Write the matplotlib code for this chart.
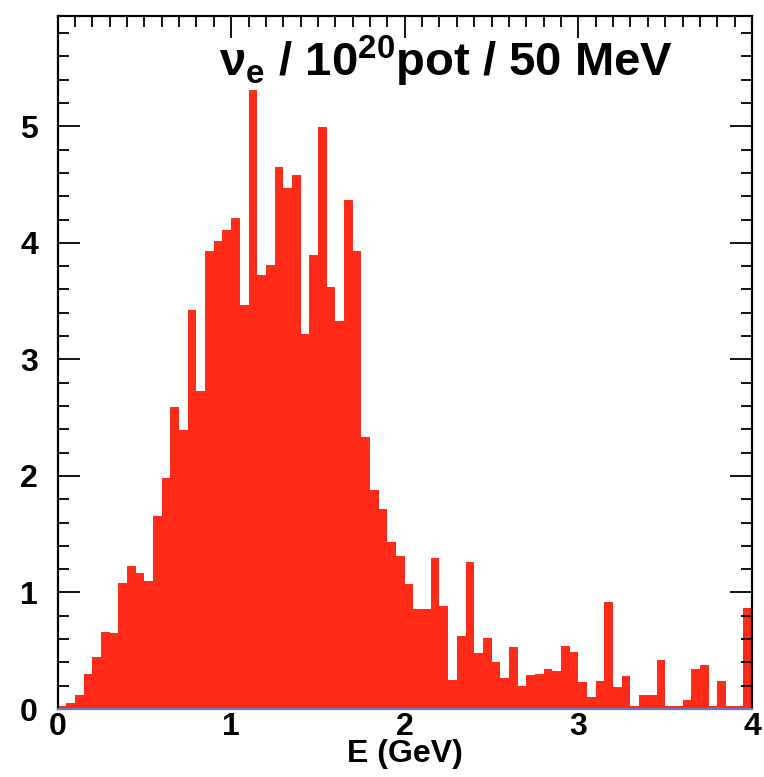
import numpy as np
import matplotlib

matplotlib.use("Agg")
import matplotlib.pyplot as plt
from matplotlib.ticker import MultipleLocator

# nu_e spectrum, 80 bins of 50 MeV from 0 to 4 GeV
E_LO, E_HI, BIN_W = 0.0, 4.0, 0.05
counts = [
    0.03, 0.05, 0.12, 0.30, 0.45, 0.66, 0.65, 1.08, 1.23, 1.17,   # 0.0 - 0.5
    1.10, 1.66, 1.98, 2.59, 2.39, 3.42, 2.73, 3.93, 4.02, 4.11,   # 0.5 - 1.0
    4.21, 3.47, 5.31, 3.72, 3.81, 4.65, 4.47, 4.58, 3.22, 3.90,   # 1.0 - 1.5
    4.99, 3.62, 3.33, 4.37, 3.93, 2.33, 1.88, 1.72, 1.43, 1.31,   # 1.5 - 2.0
    1.07, 0.86, 0.86, 1.30, 0.88, 0.25, 0.63, 1.26, 0.48, 0.61,   # 2.0 - 2.5
    0.40, 0.27, 0.53, 0.20, 0.29, 0.30, 0.34, 0.33, 0.54, 0.49,   # 2.5 - 3.0
    0.23, 0.10, 0.24, 0.92, 0.19, 0.28, 0.03, 0.12, 0.12, 0.42,   # 3.0 - 3.5
    0.03, 0.03, 0.08, 0.34, 0.38, 0.03, 0.24, 0.03, 0.03, 0.87,   # 3.5 - 4.0
]
x_ticks = [0, 1, 2, 3, 4]
y_ticks = [0, 1, 2, 3, 4, 5]

RED = "#ff2b18"
BOLD = dict(fontweight="bold", family=["Liberation Sans", "DejaVu Sans"])

fig = plt.figure(figsize=(7.64, 7.77), dpi=100)
ax = fig.add_axes([0.0753, 0.0875, 0.909, 0.8924])

edges = np.arange(len(counts) + 1) * BIN_W + E_LO
ax.stairs(counts, edges, fill=True, color=RED, lw=0)
ax.plot([E_LO, E_HI], [0, 0], color="#7474bd", lw=1.6, clip_on=False, zorder=3)

ax.set_xlim(E_LO, E_HI)
ax.set_ylim(0, 5.95)

ax.xaxis.set_major_locator(MultipleLocator(1))
ax.xaxis.set_minor_locator(MultipleLocator(0.1))
ax.yaxis.set_major_locator(MultipleLocator(1))
ax.yaxis.set_minor_locator(MultipleLocator(0.2))
ax.tick_params(which="both", direction="in", top=True, right=True, width=1.3, color="black")
ax.tick_params(which="major", length=16)
ax.tick_params(which="minor", length=8)
ax.tick_params(axis="y", which="major", pad=14)
ax.tick_params(axis="x", which="both", bottom=False)
ax.tick_params(axis="x", which="major", pad=2)
ax.set_xticks(x_ticks)
ax.set_yticks(y_ticks)
ax.set_xticklabels([str(v) for v in x_ticks], fontsize=23, **BOLD)
ax.set_yticklabels([str(v) for v in y_ticks], fontsize=23, **BOLD)

for side in ("left", "top", "right"):
    ax.spines[side].set_linewidth(1.6)
ax.spines["bottom"].set_visible(False)

ax.set_xlabel("E (GeV)", fontsize=23, labelpad=-2, **BOLD)
ax.text(2.24, 5.43, r"$\mathregular{\nu}_{\mathregular{e}}$ / 10$^{\mathregular{20}}$pot / 50 MeV",
        ha="center", va="baseline", fontsize=34, **BOLD)

fig.savefig("out.png", dpi=100)
